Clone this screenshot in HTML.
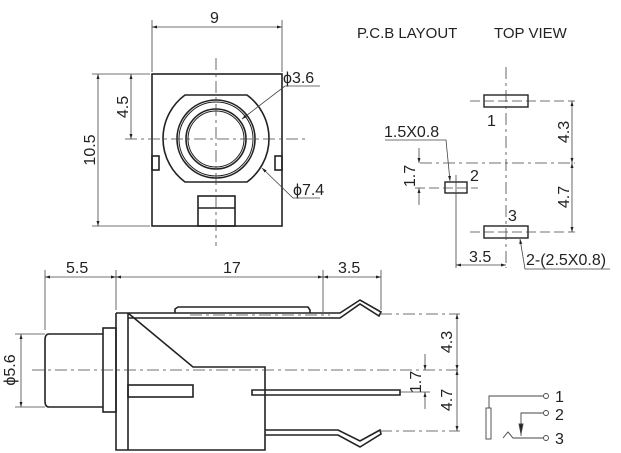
<!DOCTYPE html>
<html><head><meta charset="utf-8"><style>
html,body{margin:0;padding:0;background:#fff;}
svg{display:block;}
text{font-family:"Liberation Sans",Arial,sans-serif;fill:#222;}
</style></head><body>
<svg width="621" height="453" viewBox="0 0 621 453" xmlns="http://www.w3.org/2000/svg">
<defs>
<marker id="a" viewBox="0 0 10 10" refX="10" refY="5" markerWidth="10" markerHeight="5" orient="auto-start-reverse" markerUnits="userSpaceOnUse"><path d="M0,2 L10,5 L0,8 z" fill="#222"/></marker>
</defs>
<g fill="none" stroke="#222" stroke-width="1.6">
<rect x="152" y="74" width="130" height="152"/>
<path d="M185,95 L247,95 A54,54 0 0 1 247,182 L185,182 A54,54 0 0 1 185,95 Z"/>
<circle cx="216" cy="139" r="39"/><circle cx="216" cy="139" r="37" stroke-width="1"/>
<circle cx="216" cy="139" r="30"/><circle cx="216" cy="139" r="28" stroke-width="1"/>
<rect x="152" y="156" width="7" height="14"/><rect x="275" y="156" width="7" height="14"/>
<rect x="198" y="196" width="37" height="30"/><line x1="198" y1="208" x2="235" y2="208"/>
</g>
<g fill="none" stroke="#444" stroke-width="0.8">
<line x1="216" y1="58" x2="216" y2="246" stroke-dasharray="12,4,3,4"/>
<line x1="125" y1="139" x2="305" y2="139" stroke-dasharray="12,4,3,4"/>
<line x1="152" y1="20" x2="152" y2="72"/><line x1="282" y1="20" x2="282" y2="72"/>
<line x1="152" y1="27" x2="282" y2="27" marker-start="url(#a)" marker-end="url(#a)"/>
<line x1="92" y1="74" x2="150" y2="74"/><line x1="92" y1="226" x2="150" y2="226"/>
<line x1="98" y1="74" x2="98" y2="226" marker-start="url(#a)" marker-end="url(#a)"/>
<line x1="131" y1="74" x2="131" y2="139" marker-start="url(#a)" marker-end="url(#a)"/>
<polyline points="320,86 285,86 242,119" marker-end="url(#a)"/>
<polyline points="320,198 293,198 262,168" marker-end="url(#a)"/>
</g>
<text x="210" y="23" font-size="16">9</text>
<text x="283" y="83" font-size="16">ϕ3.6</text>
<text x="293" y="195" font-size="16">ϕ7.4</text>
<text transform="translate(95,150) rotate(-90)" font-size="16" text-anchor="middle">10.5</text>
<text transform="translate(128,107) rotate(-90)" font-size="16" text-anchor="middle">4.5</text>

<g fill="none" stroke="#222" stroke-width="1.6">
<path d="M103,334 L49,334 Q45,334 45,340 L45,401 Q45,407 49,407 L103,407"/>
<rect x="103" y="328" width="13" height="84"/>
<path d="M116,313 L116,450 L265,450 L265,367 L193,367 L128,313"/>
<line x1="128" y1="313" x2="128" y2="450"/>
<path d="M175,313 L175,309 L178,307 L308,307 L310,310 L310,313"/>
<path d="M116,313 L340,313 L360,300 L381,312 L379,316 L360,304 L340,318 L128,318"/>
<rect x="128" y="385" width="65" height="12"/>
<path d="M252,390 L400,390 L400,395 L252,395 Z"/>
<path d="M265,430 L338,430 L360,441 L380,430 L381,434 L360,447 L338,435 L265,435"/>
</g>
<g fill="none" stroke="#444" stroke-width="0.8">
<line x1="32" y1="370" x2="462" y2="370" stroke-dasharray="12,4,3,4"/>
<line x1="190" y1="315" x2="330" y2="315" stroke-dasharray="12,4,3,4"/>
<line x1="380" y1="314" x2="460" y2="314" stroke-dasharray="12,4,3,4"/>
<line x1="380" y1="431" x2="460" y2="431" stroke-dasharray="12,4,3,4"/>
<line x1="400" y1="392" x2="430" y2="392"/>
<line x1="45" y1="270" x2="45" y2="330"/><line x1="116" y1="270" x2="116" y2="310"/>
<line x1="323" y1="270" x2="323" y2="312"/><line x1="381" y1="270" x2="381" y2="310"/>
<line x1="45" y1="277" x2="116" y2="277" marker-start="url(#a)" marker-end="url(#a)"/>
<line x1="116" y1="277" x2="323" y2="277" marker-start="url(#a)" marker-end="url(#a)"/>
<line x1="323" y1="277" x2="381" y2="277" marker-start="url(#a)" marker-end="url(#a)"/>
<line x1="15" y1="334" x2="45" y2="334"/><line x1="15" y1="407" x2="45" y2="407"/>
<line x1="21" y1="334" x2="21" y2="407" marker-start="url(#a)" marker-end="url(#a)"/>
<line x1="457" y1="314" x2="457" y2="370" marker-start="url(#a)" marker-end="url(#a)"/>
<line x1="457" y1="370" x2="457" y2="431" marker-start="url(#a)" marker-end="url(#a)"/>
<line x1="425" y1="354" x2="425" y2="370" marker-end="url(#a)"/>
<line x1="425" y1="409" x2="425" y2="392" marker-end="url(#a)"/>
</g>
<text x="66" y="273" font-size="16">5.5</text>
<text x="223" y="273" font-size="16">17</text>
<text x="338" y="273" font-size="16">3.5</text>
<text transform="translate(15,370) rotate(-90)" font-size="16" text-anchor="middle">ϕ5.6</text>
<text transform="translate(452,342) rotate(-90)" font-size="16" text-anchor="middle">4.3</text>
<text transform="translate(452,400) rotate(-90)" font-size="16" text-anchor="middle">4.7</text>
<text transform="translate(421,382) rotate(-90)" font-size="16" text-anchor="middle">1.7</text>

<text x="357" y="38" font-size="15">P.C.B LAYOUT</text>
<text x="494" y="38" font-size="15">TOP VIEW</text>
<g fill="none" stroke="#222" stroke-width="1.4">
<rect x="484" y="95" width="44" height="12"/>
<rect x="484" y="226" width="44" height="12"/>
<rect x="445" y="182" width="22" height="11"/>
</g>
<g fill="none" stroke="#444" stroke-width="0.8">
<line x1="506" y1="67" x2="506" y2="268" stroke-dasharray="12,4,3,4"/>
<line x1="420" y1="163" x2="575" y2="163" stroke-dasharray="12,4,3,4"/>
<line x1="470" y1="101" x2="575" y2="101" stroke-dasharray="10,4"/>
<line x1="470" y1="232" x2="575" y2="232" stroke-dasharray="10,4"/>
<line x1="415" y1="188" x2="478" y2="188" stroke-dasharray="10,4"/>
<line x1="456" y1="175" x2="456" y2="268"/>
<line x1="572" y1="101" x2="572" y2="163" marker-start="url(#a)" marker-end="url(#a)"/>
<line x1="572" y1="163" x2="572" y2="232" marker-start="url(#a)" marker-end="url(#a)"/>
<line x1="419" y1="148" x2="419" y2="163" marker-end="url(#a)"/>
<line x1="419" y1="205" x2="419" y2="188" marker-end="url(#a)"/>
<line x1="456" y1="265" x2="506" y2="265" marker-start="url(#a)" marker-end="url(#a)"/>
<polyline points="385,140 446,140 450,181" marker-end="url(#a)"/>
<polyline points="610,269 525,269 520,239" marker-end="url(#a)"/>
</g>
<text x="487" y="126" font-size="16">1</text>
<text x="470" y="181" font-size="16">2</text>
<text x="508" y="221" font-size="16">3</text>
<text x="384" y="137" font-size="16">1.5X0.8</text>
<text x="469" y="262" font-size="16">3.5</text>
<text x="526" y="265" font-size="16">2-(2.5X0.8)</text>
<text transform="translate(415,176) rotate(-90)" font-size="16" text-anchor="middle">1.7</text>
<text transform="translate(569,132) rotate(-90)" font-size="16" text-anchor="middle">4.3</text>
<text transform="translate(569,197) rotate(-90)" font-size="16" text-anchor="middle">4.7</text>

<g fill="none" stroke="#444" stroke-width="0.9">
<rect x="486" y="408" width="5" height="31"/>
<polyline points="489,408 489,396 543,396"/>
<circle cx="546" cy="396" r="2.5"/>
<polyline points="543,413 521,413 521,436"/>
<circle cx="546" cy="413" r="2.5"/>
<polyline points="503,438 508,432 513,438 543,438"/>
<circle cx="546" cy="438" r="2.5"/>
<path d="M519,424 L521,434 L523,424 z" fill="#222"/>
</g>
<text x="555" y="402" font-size="16">1</text>
<text x="555" y="420" font-size="16">2</text>
<text x="555" y="444" font-size="16">3</text>
</svg>
</body></html>
